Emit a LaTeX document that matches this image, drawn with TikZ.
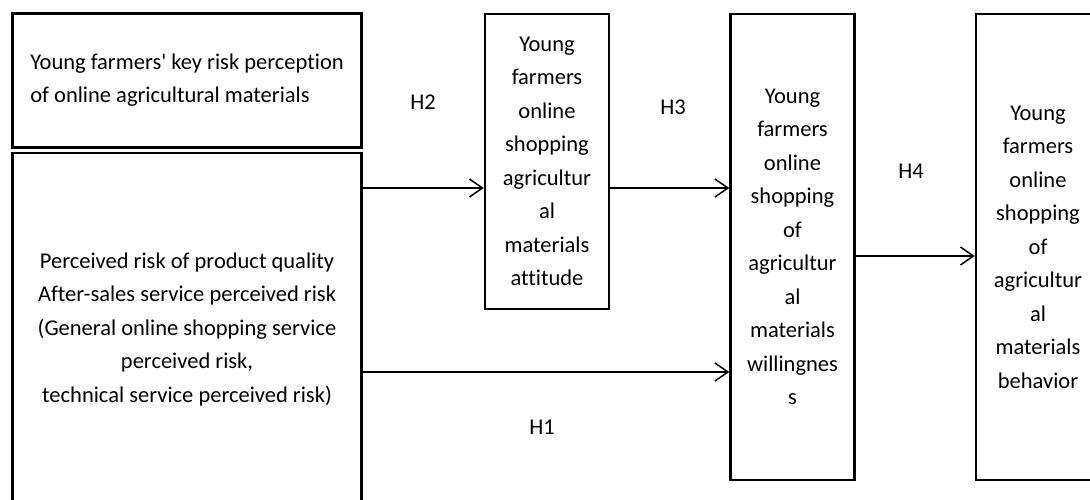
\documentclass[tikz,border=0pt]{standalone}
\usepackage{fontspec}
\setmainfont{Carlito}[Ligatures={TeXOff,NoCommon}]
\usetikzlibrary{arrows.meta}
\begin{document}
\begin{tikzpicture}[x=1pt,y=-1pt,
  box/.style={draw, line width=2.5pt, inner sep=0pt, align=center,
    font=\fontsize{22.5}{33.5}\selectfont},
  link/.style={line width=1.5pt,
    -{Straight Barb[length=13pt,width=18pt,line width=1.5pt]}},
  lbl/.style={font=\fontsize{22.5}{26}\selectfont, inner sep=0pt}]
\useasboundingbox (0,0) rectangle (1090,499);
\node[box, line width=3pt, align=left, minimum width=349pt, minimum height=134pt] (risk) at (187,80)
  {Young farmers' key risk perception\\of online agricultural materials};
\node[box, minimum width=349pt, minimum height=352pt] (factors) at (187,329)
  {Perceived risk of product quality\\After-sales service perceived risk\\(General online shopping service\\perceived risk,\\technical service perceived risk)};
\node[box, minimum width=124pt, minimum height=295pt] (att) at (547,161.5)
  {Young\\farmers\\online\\shopping\\agricultur\\al\\materials\\attitude};
\node[box, minimum width=124pt, minimum height=466pt] (will) at (792.5,247)
  {Young\\farmers\\online\\shopping\\of\\agricultur\\al\\materials\\willingnes\\s};
\node[box, minimum width=124pt, minimum height=466pt] (beh) at (1038,247)
  {Young\\farmers\\online\\shopping\\of\\agricultur\\al\\materials\\behavior};
\draw[link] (factors.east |- 0,188) -- (att.west |- 0,188);
\draw[link] (att.east |- 0,188) -- (will.west |- 0,188);
\draw[link] (factors.east |- 0,372) -- (will.west |- 0,372);
\draw[link] (will.east |- 0,256) -- (beh.west |- 0,256);
\node[lbl] (h2) at (423,102) {H2};
\node[lbl] (h3) at (673,107) {H3};
\node[lbl] (h1) at (542,427) {H1};
\node[lbl] (h4) at (911,171) {H4};
\end{tikzpicture}
\end{document}
